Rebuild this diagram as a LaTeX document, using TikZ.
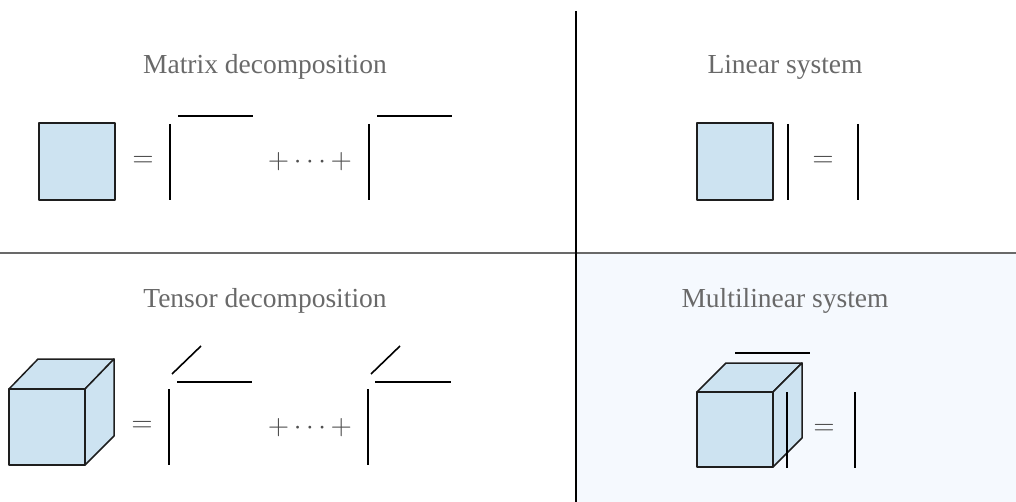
\documentclass[tikz,border=0pt]{standalone}
\usepackage{graphicx}
\usepackage[no-math]{fontspec}
\setmainfont{Liberation Serif}
\definecolor{cellblue}{RGB}{205,227,241}
\definecolor{panelblue}{RGB}{245,249,254}
\definecolor{titlegray}{RGB}{105,105,105}
\definecolor{opgray}{RGB}{80,80,80}
\definecolor{edge}{RGB}{30,30,30}
\newcommand{\bigop}[1]{\scalebox{2.75}{$#1$}}
\tikzset{
  title/.style={font=\fontsize{27.5}{33}\selectfont, text=titlegray, anchor=base, inner sep=0pt},
  op/.style={text=opgray, inner sep=0pt},
  block/.style={draw=edge, fill=cellblue, line width=1.5pt, line join=round},
  vec/.style={draw=black, line width=1.6pt},
  divider/.style={line width=1.6pt}
}
\begin{document}
\begin{tikzpicture}[x=1pt,y=-1pt]
  \useasboundingbox (0,0) rectangle (1016,502);
  % shaded panel for the multilinear system
  \fill[panelblue] (576,253) rectangle (1016,502);
  % panel dividers
  \draw[divider, draw=titlegray] (0,253) -- (1016,253);
  \draw[divider, draw=black] (576,11) -- (576,502);

  % ---------- titles ----------
  \node[title] (t1) at (265,74) {Matrix decomposition};
  \node[title] (t2) at (785,74) {Linear system};
  \node[title] (t3) at (265,308) {Tensor decomposition};
  \node[title] (t4) at (785,308) {Multilinear system};

  % ---------- matrix decomposition ----------
  \path[block] (39,123) rectangle (115,200);
  \node[op] (eq1) at (143,161) {\bigop{=}};
  \draw[vec] (170,124) -- (170,200);
  \draw[vec] (178,116) -- (253,116);
  \node[op] (dots1) at (310,162) {\bigop{+\cdots+}};
  \draw[vec] (369,124) -- (369,200);
  \draw[vec] (377,116) -- (452,116);

  % ---------- linear system ----------
  \path[block] (697,123) rectangle (773,200);
  \draw[vec] (788,124) -- (788,200);
  \node[op] (eq2) at (823,161) {\bigop{=}};
  \draw[vec] (858,124) -- (858,200);

  % ---------- tensor decomposition ----------
  \path[block] (9,389) -- (38,359) -- (114,359) -- (85,389) -- cycle;
  \path[block] (85,389) -- (114,359) -- (114,436) -- (85,465) -- cycle;
  \path[block] (9,389) rectangle (85,465);
  \node[op] (eq3) at (142,426) {\bigop{=}};
  \draw[vec] (169,389) -- (169,465);
  \draw[vec] (172,374) -- (201,346);
  \draw[vec] (177,382) -- (252,382);
  \node[op] (dots2) at (310,428) {\bigop{+\cdots+}};
  \draw[vec] (368,389) -- (368,465);
  \draw[vec] (371,374) -- (400,346);
  \draw[vec] (375,382) -- (451,382);

  % ---------- multilinear system ----------
  \draw[vec] (735,353) -- (810,353);
  \path[block] (697,392) -- (726,363) -- (802,363) -- (773,392) -- cycle;
  \path[block] (773,392) -- (802,363) -- (802,438) -- (773,467) -- cycle;
  \path[block] (697,392) rectangle (773,467);
  \draw[vec] (787,392) -- (787,468);
  \node[op] (eq4) at (824,429) {\bigop{=}};
  \draw[vec] (855,392) -- (855,468);
\end{tikzpicture}
\end{document}
